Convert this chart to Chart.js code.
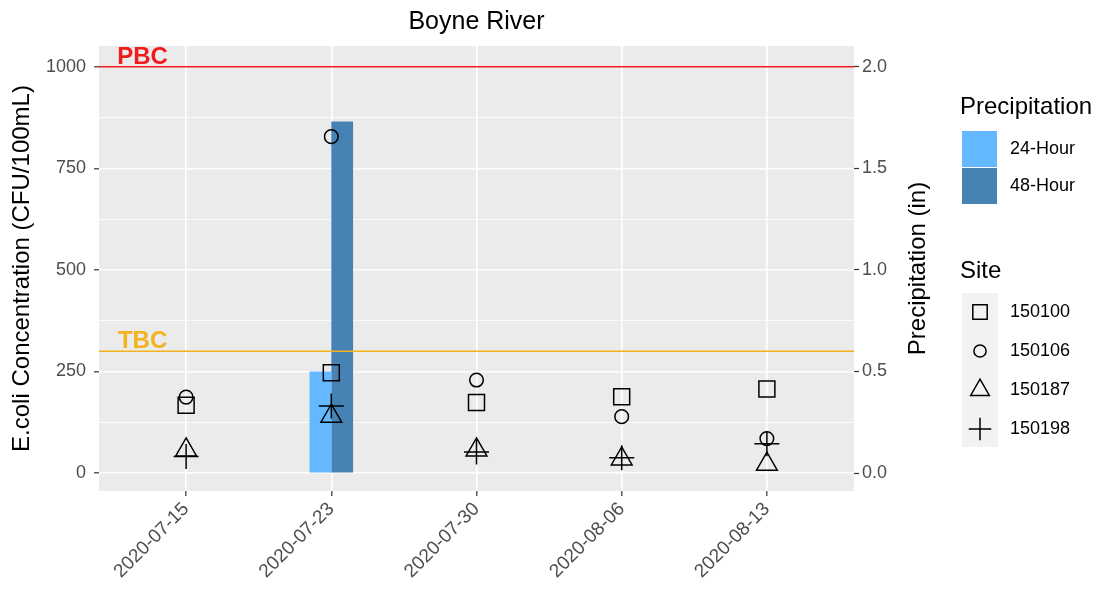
<!DOCTYPE html>
<html>
<head>
<meta charset="utf-8">
<title>Boyne River</title>
<script src="https://cdn.jsdelivr.net/npm/chart.js"></script>
<style>
  body { margin: 0; background: #fff; }
</style>
</head>
<body>
<canvas id="myChart" width="1098" height="593"></canvas>
<script>
// sample dates (x categories)
var dates = ['2020-07-15', '2020-07-23', '2020-07-30', '2020-08-06', '2020-08-13'];

// precipitation, inches (right axis)
var precip24 = [0, 0.5, 0, 0, 0];
var precip48 = [0, 1.73, 0, 0, 0];

// E.coli per site, CFU/100mL
var siteNames = ['150100', '150106', '150187', '150198'];
var site150100 = [167, 247, 174, 188, 207];
var site150106 = [187, 828, 229, 139, 85];
var site150187 = [57, 140, 57, 35, 22];
var site150198 = [41, 165, 52, 38, 72];

// beach closing thresholds
var limitNames = ['PBC', 'TBC'];
var limitValues = [1000, 300];

var yTicks = [0, 125, 250, 375, 500, 625, 750, 875, 1000];
var y2Ticks = [0, 0.5, 1, 1.5, 2];

var FONT = "'Liberation Sans', Arial, sans-serif";
var limitColors = ['#F21A1A', '#F2B31E'];
var siteStyles = ['rect', 'circle', 'triangle', 'cross'];
var siteRadius = [11.3, 6.8, 12, 12.5];

function xy(arr) {
    return arr.map((v, i) => ({x: i, y: v}));
}

var panelBg = {
    id: 'panelBg',
    beforeDraw(chart) {
        var ctx = chart.ctx, a = chart.chartArea;
        ctx.save();
        ctx.fillStyle = '#fff';
        ctx.fillRect(0, 0, chart.width, chart.height);
        ctx.fillStyle = '#EBEBEB';
        ctx.fillRect(a.left, a.top, a.right - a.left, a.bottom - a.top);
        ctx.restore();
    }
};

var refLines = {
    id: 'refLines',
    afterDatasetsDraw(chart) {
        var ctx = chart.ctx, a = chart.chartArea;
        var x = chart.scales.x, y = chart.scales.y;
        ctx.save();
        limitValues.forEach((v, i) => {
            var py = y.getPixelForValue(v);
            ctx.strokeStyle = limitColors[i];
            ctx.lineWidth = 1.5;
            ctx.beginPath();
            ctx.moveTo(a.left, py);
            ctx.lineTo(a.right, py);
            ctx.stroke();
            ctx.fillStyle = limitColors[i];
            ctx.font = 'bold 24px ' + FONT;
            ctx.textAlign = 'center';
            ctx.textBaseline = 'alphabetic';
            ctx.fillText(limitNames[i], x.getPixelForValue(-0.3), py - 3);
        });
        ctx.restore();
    }
};

var sideStuff = {
    id: 'sideStuff',
    afterDraw(chart) {
        var ctx = chart.ctx, a = chart.chartArea;
        var y2 = chart.scales.y2;
        var ds = chart.data.datasets;
        ctx.save();

        // plot title over the panel
        ctx.fillStyle = '#000';
        ctx.font = '25px ' + FONT;
        ctx.textAlign = 'center';
        ctx.textBaseline = 'middle';
        ctx.fillText('Boyne River', (a.left + a.right) / 2, 22);

        // right axis title, reads bottom to top
        ctx.font = '24px ' + FONT;
        ctx.translate(y2.right - 20, (a.top + a.bottom) / 2);
        ctx.rotate(-Math.PI / 2);
        ctx.fillText('Precipitation (in)', 0, 0);
        ctx.setTransform(1, 0, 0, 1, 0, 0);

        // legend
        var lx = 960;
        ctx.textAlign = 'left';
        ctx.font = '24px ' + FONT;
        ctx.fillText('Precipitation', lx, 107);
        ctx.font = '18px ' + FONT;
        [0, 1].forEach(i => {
            var top = 131 + i * 37;
            ctx.fillStyle = ds[i].backgroundColor;
            ctx.fillRect(lx + 2, top, 35, 36);
            ctx.fillStyle = '#000';
            ctx.fillText(ds[i].label, 1010, top + 18);
        });

        ctx.font = '24px ' + FONT;
        ctx.fillText('Site', lx, 271);
        ctx.fillStyle = '#F2F2F2';
        ctx.fillRect(lx + 2, 293, 36, 154);
        ctx.font = '18px ' + FONT;
        for (var i = 2; i < ds.length; i++) {
            var cy = 312 + (i - 2) * 39;
            ctx.strokeStyle = '#000';
            ctx.fillStyle = 'rgba(0,0,0,0)';
            ctx.lineWidth = 1.5;
            Chart.helpers.drawPoint(ctx, {
                pointStyle: ds[i].pointStyle,
                radius: ds[i].pointRadius * 0.9,
                rotation: 0,
                borderWidth: 1.5
            }, lx + 20, cy);
            ctx.fillStyle = '#000';
            ctx.fillText(ds[i].label, 1010, cy);
        }
        ctx.restore();
    }
};

var datasets = [
    {
        type: 'bar',
        label: '24-Hour',
        data: xy(precip24),
        yAxisID: 'y2',
        order: 10,
        backgroundColor: '#63B8FF',
        categoryPercentage: 0.3,
        barPercentage: 1.0
    },
    {
        type: 'bar',
        label: '48-Hour',
        data: xy(precip48),
        yAxisID: 'y2',
        order: 10,
        backgroundColor: '#4682B4',
        categoryPercentage: 0.3,
        barPercentage: 1.0
    }
];

[site150100, site150106, site150187, site150198].forEach((vals, i) => {
    datasets.push({
        type: 'scatter',
        label: siteNames[i],
        data: xy(vals),
        yAxisID: 'y',
        order: 0,
        pointStyle: siteStyles[i],
        pointRadius: siteRadius[i],
        pointBorderWidth: 1.5,
        pointBorderColor: '#000',
        pointBackgroundColor: 'rgba(0,0,0,0)',
        showLine: false
    });
});

var tickFont = {family: FONT, size: 18};

var config = {
    type: 'bar',
    data: {datasets: datasets},
    options: {
        responsive: false,
        animation: false,
        layout: {padding: {left: 0, right: 160, top: 46, bottom: 0}},
        plugins: {
            legend: {display: false},
            tooltip: {enabled: false}
        },
        scales: {
            x: {
                type: 'linear',
                min: -0.6,
                max: 4.6,
                offset: false,
                afterBuildTicks: s => { s.ticks = dates.map((d, i) => ({value: i})); },
                afterFit: s => { s.height = 102; },
                border: {display: false},
                grid: {offset: false, color: '#fff', lineWidth: 1.6, tickLength: 5, tickColor: '#333', tickWidth: 1.2},
                ticks: {
                    autoSkip: false,
                    minRotation: 45,
                    maxRotation: 45,
                    padding: 2,
                    color: '#4D4D4D',
                    font: {family: FONT, size: 19},
                    callback: v => dates[v]
                }
            },
            y: {
                position: 'left',
                min: -44,
                max: 1051,
                afterBuildTicks: s => { s.ticks = yTicks.map(v => ({value: v})); },
                afterFit: s => { s.width = 99; },
                border: {display: false},
                grid: {
                    color: '#fff',
                    lineWidth: c => (c.tick && c.tick.value % 250 === 0) ? 1.6 : 0.8,
                    tickLength: 5,
                    tickColor: c => (c.tick && c.tick.value % 250 === 0) ? '#333' : 'rgba(0,0,0,0)',
                    tickWidth: 1.2
                },
                ticks: {
                    padding: 8,
                    color: '#4D4D4D',
                    font: tickFont,
                    callback: v => (v % 250 === 0) ? String(v) : ''
                },
                title: {
                    display: true,
                    text: 'E.coli Concentration (CFU/100mL)',
                    color: '#000',
                    font: {family: FONT, size: 24},
                    padding: {top: 8, bottom: 0}
                }
            },
            y2: {
                position: 'right',
                min: -0.088,
                max: 2.102,
                afterBuildTicks: s => { s.ticks = y2Ticks.map(v => ({value: v})); },
                afterFit: s => { s.width = 84; },
                border: {display: false},
                grid: {drawOnChartArea: false, tickLength: 5, tickColor: '#333', tickWidth: 1.2},
                ticks: {
                    padding: 3,
                    color: '#4D4D4D',
                    font: tickFont,
                    callback: v => v.toFixed(1)
                }
            }
        }
    },
    plugins: [panelBg, refLines, sideStuff]
};

var myChart = new Chart(document.getElementById('myChart'), config);
</script>
</body>
</html>
